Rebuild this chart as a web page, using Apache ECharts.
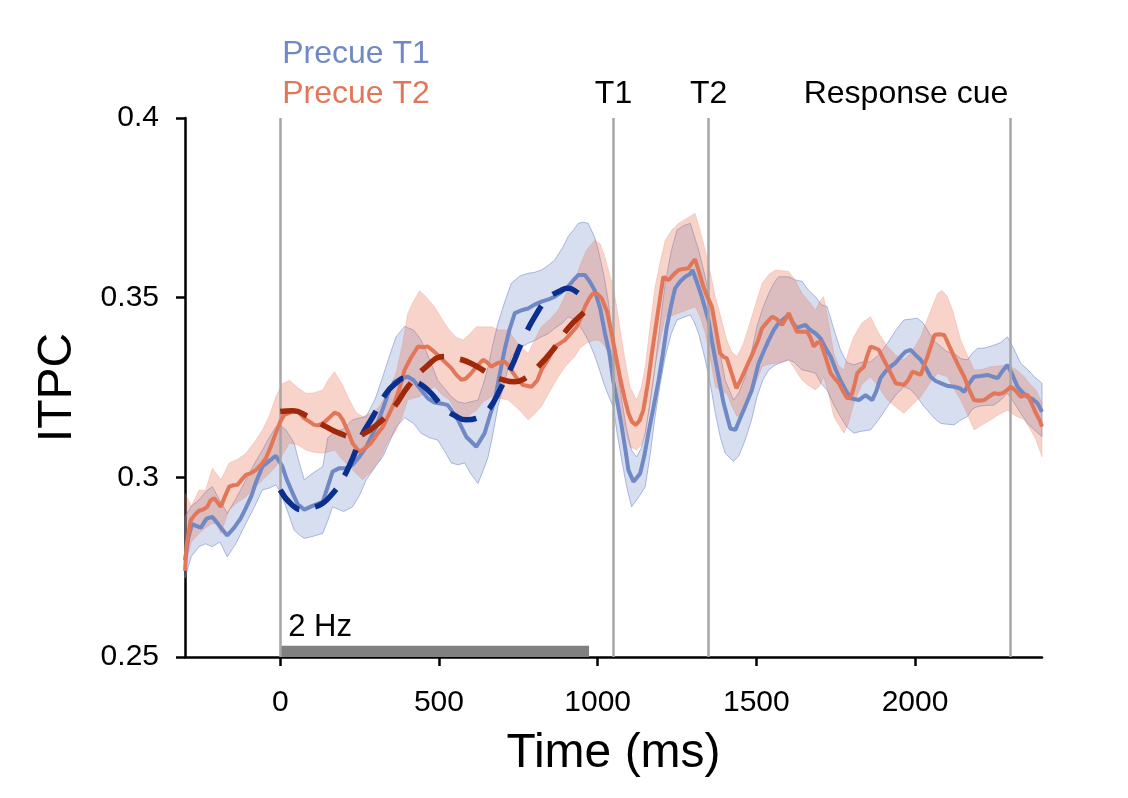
<!DOCTYPE html>
<html>
<head>
<meta charset="utf-8">
<script src="https://cdn.jsdelivr.net/npm/echarts@6/dist/echarts.min.js"></script>
<style>
html,body{margin:0;padding:0;background:#fff;}
#chart{width:1128px;height:798px;}
</style>
</head>
<body>
<div id="chart"></div>
<script>
// ---------- data ----------
const xTicks = [0, 500, 1000, 1500, 2000];
const eventTimes = [0, 1050, 1350, 2300];
const eventLabels = ['', 'T1', 'T2', 'Response cue'];
const legendLabels = ['Precue T1', 'Precue T2'];
const freqLabel = '2 Hz';
const freqBar = [0, 973, 0.25, 0.2531];

const blueLine = [[-300,0.277],[-290,0.283],[-278,0.287],[-265,0.2865],[-250,0.286],[-232,0.2885],[-214,0.289],[-200,0.2875],[-187,0.286],[-167,0.2838],[-145,0.286],[-125,0.2885],[-108,0.2915],[-90,0.295],[-77,0.2985],[-56,0.303],[-35,0.3045],[-14,0.306],[7,0.303],[20,0.2995],[39,0.2956],[55,0.2925],[76,0.291],[100,0.292],[134,0.2932],[150,0.2975],[165,0.3016],[185,0.3025],[207,0.3025],[228,0.3035],[249,0.3057],[271,0.3085],[302,0.314],[323,0.319],[344,0.3243],[360,0.3266],[380,0.3275],[402,0.328],[420,0.327],[444,0.3243],[465,0.322],[486,0.3208],[510,0.3205],[528,0.3201],[545,0.318],[560,0.316],[586,0.3113],[618,0.3085],[644,0.3123],[660,0.317],[676,0.3215],[690,0.328],[707,0.3355],[722,0.341],[739,0.3457],[760,0.3465],[781,0.347],[800,0.348],[823,0.3489],[845,0.3495],[865,0.3503],[885,0.3515],[907,0.3531],[925,0.355],[939,0.3563],[960,0.3563],[975,0.3545],[991,0.352],[1008,0.347],[1023,0.3401],[1036,0.335],[1049,0.327],[1062,0.321],[1076,0.3141],[1087,0.308],[1097,0.302],[1113,0.2988],[1134,0.3011],[1147,0.306],[1160,0.3123],[1175,0.319],[1192,0.327],[1205,0.334],[1218,0.3419],[1232,0.348],[1244,0.3526],[1260,0.3545],[1276,0.3558],[1290,0.3565],[1299,0.3577],[1314,0.354],[1328,0.3503],[1349,0.3438],[1360,0.338],[1371,0.3327],[1385,0.326],[1397,0.3206],[1418,0.3136],[1434,0.3132],[1447,0.316],[1460,0.3187],[1486,0.3243],[1507,0.3317],[1523,0.335],[1539,0.3382],[1555,0.341],[1570,0.3429],[1585,0.344],[1602,0.3452],[1615,0.343],[1628,0.3415],[1640,0.342],[1655,0.3424],[1670,0.341],[1686,0.3401],[1702,0.3387],[1718,0.336],[1734,0.3336],[1750,0.33],[1765,0.327],[1780,0.3245],[1797,0.322],[1823,0.3215],[1844,0.3229],[1865,0.3215],[1878,0.324],[1891,0.3276],[1907,0.3295],[1923,0.3308],[1940,0.332],[1955,0.3336],[1970,0.335],[1986,0.3355],[2002,0.334],[2018,0.3327],[2034,0.3305],[2049,0.328],[2065,0.3268],[2081,0.3262],[2100,0.3255],[2123,0.3252],[2140,0.3248],[2155,0.3238],[2170,0.326],[2186,0.328],[2207,0.3282],[2228,0.3285],[2245,0.328],[2260,0.3276],[2275,0.3295],[2291,0.3313],[2307,0.3285],[2323,0.3252],[2340,0.3235],[2355,0.3224],[2370,0.3218],[2386,0.3206],[2400,0.3182]];

const orangeLine = [[-300,0.274],[-295,0.281],[-282,0.288],[-270,0.2895],[-256,0.2907],[-243,0.291],[-230,0.2918],[-220,0.2935],[-208,0.2942],[-197,0.293],[-187,0.2918],[-175,0.2945],[-161,0.2974],[-148,0.2978],[-135,0.2979],[-120,0.2995],[-108,0.3007],[-92,0.3012],[-77,0.302],[-60,0.3035],[-45,0.3053],[-30,0.3085],[-14,0.3123],[0,0.3155],[13,0.3174],[30,0.318],[44,0.3187],[60,0.318],[76,0.3164],[92,0.3155],[107,0.3146],[120,0.3145],[134,0.315],[150,0.3162],[171,0.318],[185,0.3175],[197,0.316],[212,0.313],[228,0.3095],[249,0.3071],[265,0.308],[286,0.3095],[305,0.312],[323,0.314],[345,0.318],[360,0.3207],[375,0.3245],[392,0.3299],[410,0.333],[434,0.3364],[450,0.3362],[465,0.3364],[485,0.335],[507,0.3331],[539,0.3304],[555,0.3285],[571,0.3271],[585,0.3275],[602,0.329],[620,0.331],[639,0.3327],[652,0.332],[665,0.3308],[685,0.3318],[707,0.3322],[720,0.331],[734,0.329],[750,0.327],[765,0.3257],[792,0.3252],[810,0.327],[823,0.3299],[845,0.333],[865,0.3364],[880,0.3372],[897,0.3382],[915,0.34],[934,0.3419],[948,0.3445],[960,0.3475],[975,0.35],[986,0.3512],[1000,0.351],[1013,0.3498],[1030,0.346],[1044,0.3401],[1057,0.334],[1070,0.328],[1085,0.322],[1097,0.3178],[1108,0.3155],[1120,0.3146],[1132,0.3158],[1144,0.3187],[1158,0.326],[1171,0.3345],[1190,0.346],[1207,0.3558],[1223,0.3549],[1240,0.3565],[1255,0.3577],[1270,0.358],[1286,0.3582],[1296,0.3595],[1307,0.3607],[1320,0.357],[1333,0.3531],[1347,0.35],[1360,0.3475],[1373,0.341],[1386,0.3345],[1397,0.3335],[1407,0.3331],[1422,0.329],[1437,0.3248],[1450,0.327],[1465,0.3299],[1478,0.3325],[1491,0.335],[1505,0.338],[1518,0.3415],[1534,0.3432],[1550,0.3447],[1565,0.344],[1581,0.3424],[1592,0.344],[1602,0.3457],[1615,0.343],[1628,0.3405],[1645,0.3405],[1660,0.3405],[1670,0.339],[1681,0.3364],[1692,0.3375],[1702,0.3377],[1718,0.3335],[1734,0.329],[1747,0.3275],[1760,0.3262],[1773,0.324],[1786,0.322],[1795,0.3222],[1802,0.3234],[1810,0.326],[1818,0.329],[1829,0.33],[1839,0.3308],[1850,0.334],[1860,0.3364],[1873,0.336],[1886,0.3355],[1900,0.333],[1913,0.3308],[1926,0.3285],[1939,0.3262],[1952,0.326],[1965,0.3257],[1978,0.327],[1992,0.3294],[2005,0.329],[2018,0.3285],[2028,0.331],[2039,0.3336],[2050,0.3365],[2061,0.3396],[2076,0.3398],[2092,0.3396],[2108,0.3365],[2123,0.3336],[2140,0.3305],[2155,0.328],[2170,0.3245],[2186,0.3215],[2202,0.3213],[2218,0.3215],[2233,0.3225],[2249,0.3234],[2263,0.3232],[2276,0.3234],[2290,0.3243],[2302,0.3252],[2318,0.324],[2333,0.3224],[2344,0.3228],[2355,0.3229],[2368,0.3205],[2381,0.3178],[2392,0.316],[2400,0.3141]];

// [time, lower, upper]
const blueBand = [[-300,0.272,0.289],[-280,0.278,0.292],[-256,0.2807,0.2937],[-235,0.2815,0.296],[-214,0.2807,0.2974],[-190,0.282,0.2935],[-167,0.2779,0.29],[-140,0.2815,0.294],[-108,0.2872,0.2993],[-80,0.292,0.304],[-56,0.2965,0.3076],[-35,0.297,0.311],[-14,0.2979,0.314],[0,0.296,0.3145],[18,0.2918,0.3132],[44,0.2853,0.3095],[60,0.284,0.304],[76,0.283,0.2993],[100,0.2835,0.301],[134,0.2844,0.303],[150,0.288,0.311],[165,0.2918,0.3123],[200,0.2905,0.3135],[228,0.2918,0.316],[250,0.295,0.3165],[271,0.2993,0.3169],[300,0.303,0.322],[323,0.3057,0.328],[345,0.31,0.334],[365,0.314,0.3391],[392,0.3166,0.342],[420,0.315,0.341],[444,0.3123,0.3382],[470,0.311,0.333],[496,0.3104,0.327],[520,0.307,0.3245],[539,0.304,0.3224],[560,0.3035,0.321],[581,0.304,0.3206],[600,0.301,0.321],[623,0.2983,0.3215],[640,0.302,0.326],[655,0.3057,0.3308],[670,0.312,0.337],[686,0.3197,0.3429],[708,0.327,0.349],[728,0.3336,0.354],[755,0.336,0.356],[781,0.3373,0.3568],[800,0.338,0.357],[823,0.3391,0.3577],[845,0.34,0.359],[865,0.3415,0.3605],[890,0.343,0.364],[907,0.3447,0.367],[925,0.344,0.369],[939,0.3429,0.3707],[955,0.3405,0.371],[970,0.3382,0.3707],[990,0.334,0.367],[1002,0.331,0.3633],[1020,0.326,0.356],[1033,0.323,0.3494],[1049,0.3197,0.3382],[1062,0.312,0.33],[1076,0.3048,0.3215],[1090,0.298,0.314],[1107,0.2918,0.3075],[1123,0.2937,0.3057],[1137,0.2955,0.308],[1150,0.2974,0.3123],[1165,0.306,0.321],[1181,0.3169,0.3308],[1197,0.326,0.343],[1213,0.3336,0.354],[1232,0.34,0.363],[1250,0.3438,0.3688],[1270,0.3445,0.37],[1292,0.3452,0.3707],[1305,0.343,0.367],[1318,0.3401,0.3633],[1339,0.3327,0.3558],[1355,0.326,0.349],[1371,0.3178,0.3419],[1387,0.311,0.334],[1402,0.3067,0.327],[1428,0.3044,0.3215],[1445,0.306,0.3235],[1465,0.3104,0.328],[1485,0.316,0.335],[1502,0.3224,0.3419],[1520,0.327,0.347],[1539,0.3299,0.3512],[1555,0.331,0.354],[1570,0.3317,0.3558],[1602,0.3327,0.3558],[1620,0.332,0.355],[1644,0.3299,0.3545],[1665,0.3295,0.352],[1686,0.329,0.3503],[1705,0.326,0.348],[1723,0.3243,0.3475],[1745,0.32,0.341],[1765,0.3169,0.3355],[1785,0.314,0.332],[1807,0.3123,0.3313],[1830,0.3128,0.332],[1860,0.3132,0.3322],[1885,0.316,0.334],[1913,0.3197,0.3373],[1940,0.323,0.341],[1965,0.3252,0.3438],[1985,0.3245,0.344],[2007,0.3224,0.3443],[2025,0.32,0.343],[2039,0.3187,0.341],[2060,0.3165,0.338],[2081,0.315,0.3364],[2100,0.3148,0.335],[2123,0.3146,0.3345],[2145,0.316,0.333],[2165,0.3169,0.3327],[2180,0.319,0.3345],[2197,0.3197,0.3359],[2220,0.32,0.336],[2249,0.3201,0.3368],[2270,0.3215,0.3375],[2291,0.3234,0.3391],[2310,0.321,0.336],[2333,0.3178,0.3317],[2355,0.315,0.33],[2376,0.3132,0.328],[2400,0.3113,0.3262]];

const orangeBand = [[-300,0.275,0.2956],[-280,0.282,0.292],[-256,0.2844,0.2965],[-235,0.286,0.2965],[-214,0.2872,0.3025],[-200,0.287,0.301],[-187,0.2844,0.2993],[-161,0.2909,0.304],[-135,0.293,0.305],[-108,0.2946,0.3067],[-80,0.297,0.31],[-56,0.2993,0.3132],[-35,0.301,0.317],[-14,0.303,0.3224],[5,0.306,0.326],[29,0.3095,0.327],[55,0.309,0.325],[81,0.3076,0.3234],[105,0.307,0.3235],[134,0.3067,0.3243],[150,0.307,0.327],[171,0.3076,0.3294],[195,0.305,0.326],[218,0.303,0.3215],[240,0.301,0.318],[260,0.2993,0.3169],[290,0.302,0.318],[313,0.3048,0.3197],[340,0.31,0.324],[365,0.313,0.329],[385,0.317,0.337],[402,0.3215,0.3457],[420,0.322,0.349],[439,0.3224,0.352],[462,0.324,0.35],[486,0.3252,0.3475],[510,0.323,0.344],[533,0.3215,0.341],[555,0.318,0.339],[576,0.316,0.3382],[598,0.3175,0.34],[618,0.3187,0.3419],[640,0.321,0.3419],[665,0.3224,0.3419],[690,0.322,0.341],[718,0.3215,0.341],[750,0.319,0.337],[781,0.316,0.3345],[800,0.3175,0.338],[823,0.3197,0.3419],[850,0.324,0.344],[876,0.328,0.3466],[900,0.331,0.351],[928,0.3336,0.3549],[945,0.336,0.359],[965,0.3373,0.3633],[991,0.3382,0.366],[1008,0.338,0.365],[1023,0.3364,0.3614],[1036,0.334,0.357],[1049,0.331,0.3531],[1062,0.325,0.3465],[1076,0.3178,0.3382],[1090,0.312,0.331],[1102,0.3085,0.3252],[1123,0.3076,0.3215],[1137,0.309,0.325],[1150,0.3123,0.3308],[1165,0.32,0.342],[1181,0.3308,0.3531],[1197,0.338,0.36],[1213,0.3447,0.366],[1235,0.345,0.369],[1255,0.3457,0.3707],[1280,0.3465,0.372],[1307,0.3475,0.3735],[1322,0.345,0.369],[1339,0.3401,0.3633],[1355,0.333,0.357],[1371,0.3252,0.3503],[1390,0.324,0.344],[1407,0.3234,0.3382],[1422,0.32,0.335],[1439,0.3169,0.3336],[1458,0.318,0.337],[1476,0.3215,0.3419],[1497,0.326,0.348],[1518,0.3308,0.354],[1540,0.3315,0.3565],[1560,0.3317,0.3577],[1580,0.332,0.3575],[1602,0.3327,0.3573],[1622,0.33,0.355],[1644,0.327,0.3512],[1665,0.3255,0.349],[1686,0.3243,0.3466],[1700,0.3255,0.349],[1712,0.328,0.3503],[1728,0.323,0.343],[1744,0.3169,0.3345],[1760,0.3145,0.331],[1776,0.3123,0.3299],[1790,0.315,0.335],[1807,0.3206,0.3391],[1833,0.326,0.343],[1860,0.328,0.3447],[1886,0.325,0.34],[1913,0.3215,0.3364],[1940,0.3195,0.334],[1965,0.3178,0.3327],[1990,0.32,0.335],[2018,0.3224,0.3391],[2045,0.326,0.3455],[2071,0.329,0.3512],[2085,0.3285,0.352],[2102,0.328,0.3503],[2120,0.325,0.346],[2144,0.3215,0.3382],[2165,0.3175,0.334],[2186,0.3132,0.3299],[2210,0.3145,0.33],[2239,0.316,0.3308],[2265,0.3175,0.331],[2291,0.3187,0.3313],[2318,0.317,0.33],[2344,0.316,0.328],[2362,0.3135,0.326],[2381,0.3104,0.3243],[2400,0.3057,0.3206]];

const blueFit = [[0,0.2965],[35,0.2925],[70,0.291],[100,0.2915],[134,0.2928],[165,0.2955],[192,0.2988],[228,0.3053],[255,0.3113],[292,0.3169],[334,0.3234],[365,0.3262],[392,0.3276],[430,0.3265],[465,0.3243],[518,0.3192],[550,0.3172],[586,0.316],[620,0.3165],[655,0.3187],[697,0.3252],[730,0.331],[760,0.3373],[802,0.3447],[844,0.3498],[880,0.3518],[907,0.3526],[935,0.3515],[955,0.3498]];

const redFit = [[0,0.3183],[39,0.3185],[86,0.317],[144,0.3141],[186,0.3123],[228,0.3113],[260,0.312],[297,0.3141],[355,0.3192],[402,0.3252],[455,0.3304],[518,0.3336],[560,0.333],[602,0.3317],[665,0.3285],[700,0.3272],[739,0.3266],[770,0.3275],[802,0.3299],[855,0.335],[907,0.3415],[965,0.3466],[975,0.3475]];

// ---------- style ----------
const FONT = "'Liberation Sans', Arial, Helvetica, sans-serif";
const C_BLUE = '#7088c4';
const C_ORANGE = '#e27658';

const chart = echarts.init(document.getElementById('chart'), null, {renderer: 'canvas'});

function bandSeries(name, data, fill, stroke, z) {
  return {
    name: name,
    type: 'custom',
    z: z,
    silent: true,
    data: data,
    encode: {x: 0, y: [1, 2]},
    renderItem: function (params, api) {
      if (params.dataIndex !== 0) return null;
      const pts = [];
      for (let i = 0; i < data.length; i++) pts.push(api.coord([data[i][0], data[i][2]]));
      for (let i = data.length - 1; i >= 0; i--) pts.push(api.coord([data[i][0], data[i][1]]));
      return {
        type: 'polygon',
        shape: {points: pts},
        style: {fill: fill, stroke: stroke, lineWidth: 1}
      };
    }
  };
}

const option = {
  animation: false,
  backgroundColor: '#fff',
  grid: {left: 185, right: 86, top: 118, bottom: 141, containLabel: false},
  xAxis: {
    type: 'value',
    min: -300, max: 2400,
    name: 'Time (ms)',
    nameLocation: 'middle',
    nameGap: 73,
    nameTextStyle: {fontFamily: FONT, fontSize: 48, color: '#000'},
    axisLine: {show: true, onZero: false, lineStyle: {color: '#000', width: 2.5}},
    axisTick: {show: true, inside: false, length: 9, lineStyle: {color: '#000', width: 2.5}, customValues: xTicks},
    axisLabel: {fontFamily: FONT, fontSize: 30, color: '#000', margin: 31, customValues: xTicks,
      formatter: function (v) { return String(v); }},
    splitLine: {show: false}
  },
  yAxis: {
    type: 'value',
    min: 0.25, max: 0.4, interval: 0.05,
    name: 'ITPC',
    nameLocation: 'middle',
    nameGap: 103,
    nameTextStyle: {fontFamily: FONT, fontSize: 48, color: '#000'},
    axisLine: {show: true, onZero: false, lineStyle: {color: '#000', width: 2.5}},
    axisTick: {show: true, inside: false, length: 9, lineStyle: {color: '#000', width: 2.5}},
    axisLabel: {fontFamily: FONT, fontSize: 30, color: '#000', margin: 26},
    splitLine: {show: false}
  },
  series: [
    {
      name: 'events',
      type: 'line',
      z: 1,
      data: [],
      silent: true,
      markLine: {
        silent: true,
        symbol: ['none', 'none'],
        label: {show: false},
        lineStyle: {color: '#a6a6a6', width: 2.5, type: 'solid'},
        data: eventTimes.map(t => ({xAxis: t}))
      },
      markArea: {
        silent: true,
        itemStyle: {color: '#808080', opacity: 1},
        label: {show: false},
        data: [[{xAxis: freqBar[0], yAxis: freqBar[2]}, {xAxis: freqBar[1], yAxis: freqBar[3]}]]
      }
    },
    bandSeries('blueBand', blueBand, 'rgba(110,135,200,0.28)', 'rgba(110,135,200,0.55)', 2),
    bandSeries('orangeBand', orangeBand, 'rgba(230,110,80,0.30)', 'rgba(230,110,80,0.2)', 3),
    {
      name: 'Precue T1', type: 'line', z: 4, data: blueLine, showSymbol: false, silent: true,
      lineStyle: {color: C_BLUE, width: 4}
    },
    {
      name: 'Precue T2', type: 'line', z: 5, data: orangeLine, showSymbol: false, silent: true,
      lineStyle: {color: C_ORANGE, width: 4}
    },
    {
      name: 'fitT1', type: 'line', z: 6, data: blueFit, showSymbol: false, silent: true, smooth: 0.5,
      lineStyle: {color: '#0a2f8f', width: 5.5, type: [28, 16], cap: 'butt'}
    },
    {
      name: 'fitT2', type: 'line', z: 7, data: redFit, showSymbol: false, silent: true, smooth: 0.5,
      lineStyle: {color: '#a0290c', width: 5.5, type: [28, 16], cap: 'butt'}
    }
  ]
};

chart.setOption(option);

function px(t) { return chart.convertToPixel({xAxisIndex: 0}, t); }
const tStyle = (text, color, align) => ({fontFamily: FONT, fontSize: 32, fill: color, text: text, align: align, verticalAlign: 'middle'});

const graphics = [
  {type: 'text', x: px(eventTimes[0]) + 2, y: 54, silent: true, style: tStyle(legendLabels[0], C_BLUE, 'left')},
  {type: 'text', x: px(eventTimes[0]) + 2, y: 94, silent: true, style: tStyle(legendLabels[1], C_ORANGE, 'left')},
  {type: 'text', x: px(eventTimes[1]), y: 94, silent: true, style: tStyle(eventLabels[1], '#000', 'center')},
  {type: 'text', x: px(eventTimes[2]), y: 94, silent: true, style: tStyle(eventLabels[2], '#000', 'center')},
  {type: 'text', x: px(eventTimes[3]) - 2, y: 94, silent: true, style: tStyle(eventLabels[3], '#000', 'right')},
  {type: 'text', x: px(freqBar[0]) + 8, y: 627, silent: true, style: Object.assign(tStyle(freqLabel, '#000', 'left'), {fontSize: 31})}
];
chart.setOption({graphic: graphics});
</script>
</body>
</html>
